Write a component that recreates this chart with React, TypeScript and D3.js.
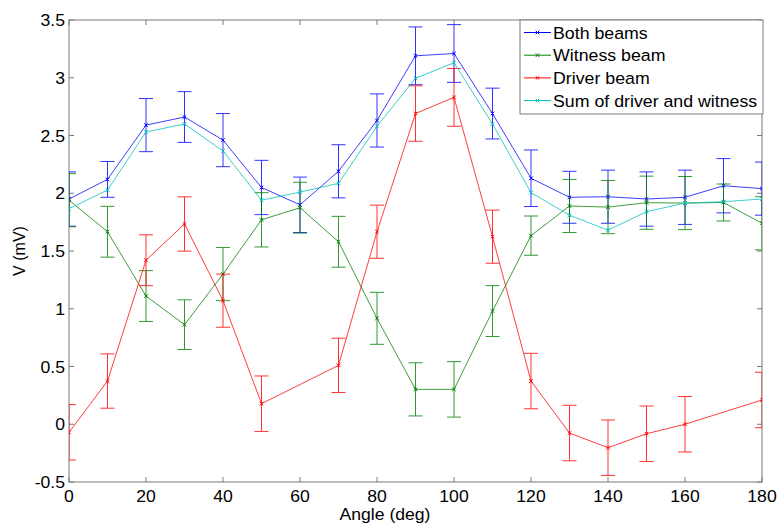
import React from "react";
import * as d3 from "d3";

const angles = [0, 10, 20, 30, 40, 50, 60, 70, 80, 90, 100, 110, 120, 130, 140, 150, 160, 170, 180];

const bothBeams = [1.95, 2.12, 2.59, 2.66, 2.46, 2.05, 1.9, 2.19, 2.63, 3.19, 3.21, 2.69, 2.13, 1.965, 1.97, 1.95, 1.965, 2.065, 2.04];
const bothErr = [0.235, 0.155, 0.23, 0.22, 0.23, 0.235, 0.24, 0.23, 0.23, 0.25, 0.25, 0.22, 0.245, 0.225, 0.23, 0.235, 0.235, 0.235, 0.23];

const witness = [1.94, 1.667, 1.11, 0.862, 1.3, 1.77, 1.875, 1.58, 0.917, 0.302, 0.302, 0.98, 1.633, 1.89, 1.88, 1.918, 1.915, 1.92, 1.74];
const witnessErr = [0.23, 0.22, 0.22, 0.215, 0.23, 0.235, 0.22, 0.22, 0.225, 0.23, 0.24, 0.22, 0.17, 0.23, 0.23, 0.23, 0.23, 0.16, 0.23];

const driver: (number | null)[] = [-0.07, 0.374, 1.42, 1.734, 1.07, 0.178, null, 0.51, 1.667, 2.69, 2.83, 1.624, 0.374, -0.076, -0.203, -0.082, 0.0, null, 0.21];
const driverErr: (number | null)[] = [0.24, 0.235, 0.22, 0.235, 0.23, 0.24, null, 0.235, 0.23, 0.24, 0.25, 0.23, 0.24, 0.24, 0.24, 0.24, 0.24, null, 0.24];

const sumDW = [1.866, 2.028, 2.53, 2.6, 2.366, 1.94, 2.01, 2.086, 2.58, 2.995, 3.13, 2.6, 2.005, 1.81, 1.68, 1.84, 1.915, 1.927, 1.95];

const xTicks = [0, 20, 40, 60, 80, 100, 120, 140, 160, 180];
const yTicks = [-0.5, 0, 0.5, 1, 1.5, 2, 2.5, 3, 3.5];

const seriesNames = ["Both beams", "Witness beam", "Driver beam", "Sum of driver and witness"];
const seriesColors = ["#0000ff", "#008000", "#ff0000", "#00bfbf"];

const W = 779;
const H = 525;
const L = 69, R = 762, T = 20, B = 482;
const FONT = "'Liberation Sans', Arial, Helvetica, sans-serif";
const AXIS = "#7a7a7a";

type Pt = { x: number; y: number; e: number | null };

function SText(props: { x: number; y: number; size: number; sx: number; anchor?: string; children: string }) {
  return (
    <text
      transform={`translate(${props.x},${props.y}) scale(${props.sx},1)`}
      textAnchor={props.anchor || "start"}
      fontSize={props.size}
      fill="#000"
    >
      {props.children}
    </text>
  );
}

export default function App() {
  const x = d3.scaleLinear().domain([0, 180]).range([L, R]);
  const y = d3.scaleLinear().domain([-0.5, 3.5]).range([B, T]);

  const mk = (vals: (number | null)[], errs: (number | null)[] | null): Pt[] =>
    angles
      .map((a, i) => ({ x: a, y: vals[i] as number, e: errs ? errs[i] : null, ok: vals[i] !== null }))
      .filter((p) => p.ok)
      .map(({ x, y, e }) => ({ x, y, e }));

  const series: Pt[][] = [
    mk(bothBeams, bothErr),
    mk(witness, witnessErr),
    mk(driver, driverErr),
    mk(sumDW, null),
  ];

  const line = d3
    .line<Pt>()
    .x((d) => x(d.x))
    .y((d) => y(d.y));

  const cap = 7;
  const ms = 1.8;

  const marker = (cx: number, cy: number, color: string, key: string) => (
    <path
      key={key}
      d={`M${cx - ms},${cy - ms}L${cx + ms},${cy + ms}M${cx - ms},${cy + ms}L${cx + ms},${cy - ms}`}
      stroke={color}
      strokeWidth={1}
      fill="none"
    />
  );

  const tickLen = 5;

  return (
    <svg
      width={W}
      height={H}
      style={{ position: "absolute", left: 0, top: 0, background: "#fff" }}
      fontFamily={FONT}
    >
      <defs>
        <clipPath id="plotclip">
          <rect x={L} y={T} width={R - L} height={B - T} />
        </clipPath>
      </defs>
      <rect x={0} y={0} width={W} height={H} fill="#fff" />

      {/* axes box */}
      <rect x={L} y={T} width={R - L} height={B - T} fill="none" stroke={AXIS} strokeWidth={1} />
      {xTicks.map((t) => (
        <g key={"xt" + t}>
          <line x1={x(t)} x2={x(t)} y1={B} y2={B - tickLen} stroke={AXIS} />
          <line x1={x(t)} x2={x(t)} y1={T} y2={T + tickLen} stroke={AXIS} />
          <SText x={x(t)} y={502} size={16} sx={1.1} anchor="middle">
            {String(t)}
          </SText>
        </g>
      ))}
      {yTicks.map((t) => (
        <g key={"yt" + t}>
          <line x1={L} x2={L + tickLen} y1={y(t)} y2={y(t)} stroke={AXIS} />
          <line x1={R} x2={R - tickLen} y1={y(t)} y2={y(t)} stroke={AXIS} />
          <SText x={65} y={y(t) + 6} size={16} sx={1.1} anchor="end">
            {String(t)}
          </SText>
        </g>
      ))}

      {/* data */}
      <g clipPath="url(#plotclip)">
        {series.map((pts, si) => {
          const c = seriesColors[si];
          return (
            <g key={"s" + si}>
              {pts.map((p, i) =>
                p.e === null ? null : (
                  <g key={"e" + i} stroke={c} strokeWidth={1} opacity={0.8}>
                    <line x1={x(p.x)} x2={x(p.x)} y1={y(p.y - p.e)} y2={y(p.y + p.e)} />
                    <line x1={x(p.x) - cap} x2={x(p.x) + cap} y1={y(p.y + p.e)} y2={y(p.y + p.e)} />
                    <line x1={x(p.x) - cap} x2={x(p.x) + cap} y1={y(p.y - p.e)} y2={y(p.y - p.e)} />
                  </g>
                )
              )}
              <path d={line(pts) || ""} fill="none" stroke={c} strokeWidth={0.9} opacity={0.85} />
              {pts.map((p, i) => marker(x(p.x), y(p.y), c, "m" + i))}
            </g>
          );
        })}
      </g>

      {/* axis labels */}
      <SText x={385} y={520} size={16} sx={1.1} anchor="middle">
        Angle (deg)
      </SText>
      <text
        transform={`translate(25,${(T + B) / 2}) rotate(-90)`}
        textAnchor="middle"
        fontSize={16}
        fill="#000"
      >
        V (mV)
      </text>

      {/* legend */}
      <rect x={520} y={20} width={243} height={94} fill="#fff" stroke={AXIS} strokeWidth={1} />
      {seriesNames.map((n, i) => {
        const ly = 32.5 + i * 22.7;
        const c = seriesColors[i];
        return (
          <g key={"lg" + i}>
            <line x1={524} x2={551} y1={ly} y2={ly} stroke={c} strokeWidth={1} />
            {marker(537.5, ly, c, "lm" + i)}
            <SText x={553} y={ly + 6} size={17} sx={1.045}>
              {n}
            </SText>
          </g>
        );
      })}
    </svg>
  );
}
